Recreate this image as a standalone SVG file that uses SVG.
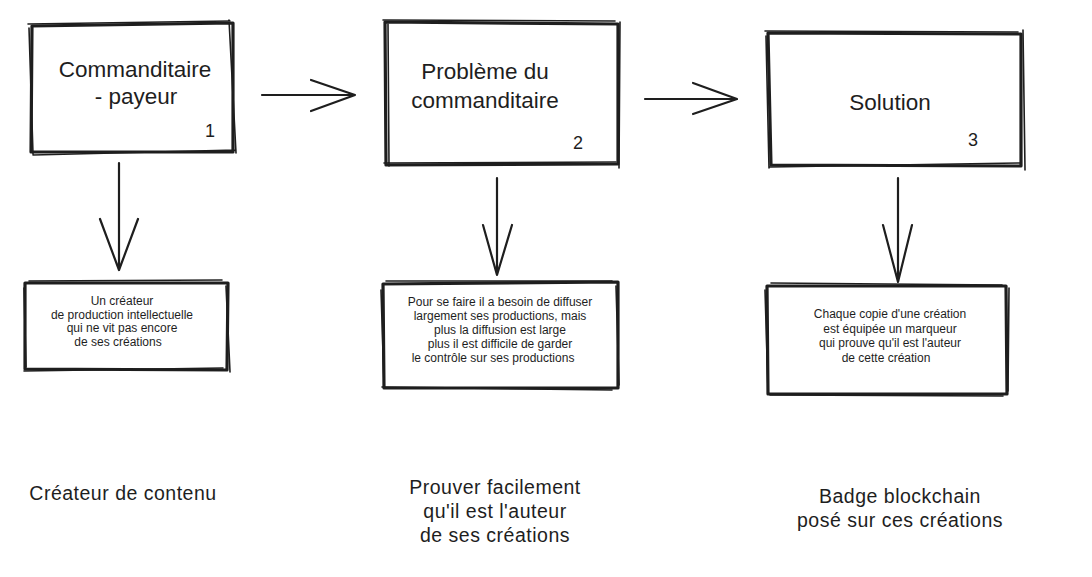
<svg xmlns="http://www.w3.org/2000/svg" width="1092" height="577" viewBox="0 0 1092 577">
<style>
.bx{fill:none;stroke:#1e1e1e;stroke-width:3.2;stroke-linecap:round;stroke-linejoin:round}
.bx2{fill:none;stroke:#1e1e1e;stroke-width:1.6;stroke-linecap:round}
.ln{fill:none;stroke:#1e1e1e;stroke-width:2.2;stroke-linecap:round;stroke-linejoin:round}
text{font-family:"Liberation Sans",Arial,sans-serif;fill:#1e1e1e}
.t{font-size:22.5px;text-anchor:middle}
.n{font-size:18px;text-anchor:middle}
.s{font-size:12px;text-anchor:middle}
.l{font-size:19.5px;letter-spacing:0.5px;text-anchor:middle}
</style>
<rect width="1092" height="577" fill="#ffffff"/>
<g id="connectors">
<path class="ln" d="M262,95 L355,95 M311,80 L355,95 L311,111"/>
<path class="ln" d="M645,99 L737,99 M693,83 L737,99 L693,114"/>
<path class="ln" d="M119,163 L119,270 M100,219 L119,270 L138,219"/>
<path class="ln" d="M497,178 L497,275 M483,225 L497,275 L512,225"/>
<path class="ln" d="M898,178 L898,282 M883,225 L898,282 L912,225"/>
</g>
<g id="node1">
<path class="bx" d="M32,26 L233,23 L233,152 L31,152 Z"/>
<path class="bx2" d="M28,24 L230,21 M229,20 L236,153 M236,150 L33,155 M29,28 L33,154"/>
<text class="t" x="135" y="77">Commanditaire</text>
<text class="t" x="136" y="104">- payeur</text>
<text class="n" x="210" y="137">1</text>
</g>
<g id="node2">
<path class="bx" d="M385,22 L618,24 L618,164 L386,165 Z"/>
<path class="bx2" d="M383,20 L615,21 M620,22 L619,168 M616,162 L384,163 M388,24 L389,166"/>
<text class="t" x="485" y="79">Problème du</text>
<text class="t" x="485" y="108">commanditaire</text>
<text class="n" x="578" y="149">2</text>
</g>
<g id="node3">
<path class="bx" d="M768,33 L1021,34 L1021,166 L771,165 Z"/>
<path class="bx2" d="M765,31 L1018,32 M1023,30 L1025,170 M1020,163 L770,167 M766,36 L769,168"/>
<text class="t" x="890" y="110">Solution</text>
<text class="n" x="973" y="146">3</text>
</g>
<g id="node4">
<path class="bx" d="M25,283 L228,283 L227,370 L25,369 Z"/>
<path class="bx2" d="M29,281 L222,280 M226,286 L230,372 M223,368 L24,371 M24,288 L26,367"/>
<text class="s" x="122" y="305">Un créateur</text>
<text class="s" x="122" y="318.5">de production intellectuelle</text>
<text class="s" x="122" y="332">qui ne vit pas encore</text>
<text class="s" x="118" y="345.5">de ses créations</text>
</g>
<g id="node5">
<path class="bx" d="M383,284 L618,282 L618,388 L384,388 Z"/>
<path class="bx2" d="M386,281 L612,281 M616,286 L619,385 M612,390 L382,387 M381,290 L384,385"/>
<text class="s" x="500" y="306">Pour se faire il a besoin de diffuser</text>
<text class="s" x="500" y="320">largement ses productions, mais</text>
<text class="s" x="500" y="334">plus la diffusion est large</text>
<text class="s" x="500" y="348">plus il est difficile de garder</text>
<text class="s" x="493" y="362">le contrôle sur ses productions</text>
</g>
<g id="node6">
<path class="bx" d="M767,286 L1006,286 L1007,394 L768,394 Z"/>
<path class="bx2" d="M771,283 L1002,285 M1009,288 L1008,391 M1003,396 L770,395 M765,290 L768,390"/>
<text class="s" x="890" y="318">Chaque copie d'une création</text>
<text class="s" x="890" y="332.5">est équipée un marqueur</text>
<text class="s" x="890" y="347">qui prouve qu'il est l'auteur</text>
<text class="s" x="886" y="361.5">de cette création</text>
</g>
<g id="labels">
<text class="l" x="123" y="500">Créateur de contenu</text>
<text class="l" x="495" y="494">Prouver facilement</text>
<text class="l" x="495" y="518">qu'il est l'auteur</text>
<text class="l" x="495" y="542">de ses créations</text>
<text class="l" x="900" y="503">Badge blockchain</text>
<text class="l" x="900" y="527">posé sur ces créations</text>
</g>
</svg>
